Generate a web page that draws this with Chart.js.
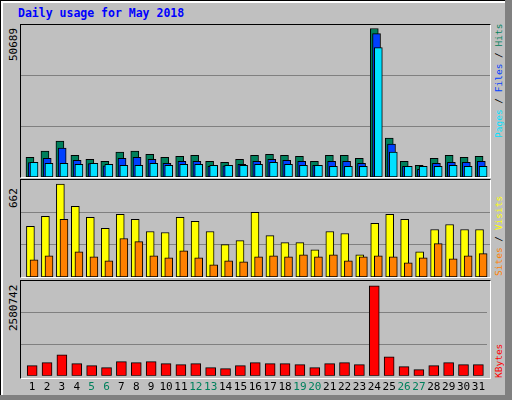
<!DOCTYPE html>
<html><head><meta charset="utf-8">
<script src="https://cdn.jsdelivr.net/npm/chart.js@4"></script>
<style>
body{margin:0;background:#fff}
#wrap{position:relative;width:512px;height:400px;background:#c0c0c0;overflow:hidden;font-family:"DejaVu Sans Mono",monospace}
#wrap:before{content:"";position:absolute;left:0;top:0;width:510px;height:398px;border-left:1px solid #000;border-top:1px solid #000}
.bev{position:absolute}
.panel{position:absolute;left:20px;width:469px;border-left:1px solid #000;border-top:1px solid #000;border-right:1px solid #fff;border-bottom:1px solid #fff}
.cv{position:absolute}
.title{position:absolute;left:18px;top:6px;font-weight:bold;font-size:11.5px;color:#0000ff}
.rot{position:absolute;transform-origin:0 0;transform:rotate(-90deg);white-space:nowrap;font-size:11px;line-height:12px}
.rs{font-size:9.5px;line-height:12px}
</style></head><body>
<div id="wrap">
  <div class="bev" style="left:1px;top:1px;width:504px;height:2px;background:#fff"></div>
  <div class="bev" style="left:1px;top:1px;width:2px;height:394px;background:#fff"></div>
  <div class="bev" style="left:505px;top:0;width:7px;height:400px;background:#808080"></div>
  <div class="bev" style="left:0;top:395px;width:512px;height:5px;background:#808080"></div>
  <div class="title">Daily usage for May 2018</div>
  <div class="panel" style="top:24px;height:152px"></div>
  <div class="panel" style="top:179px;height:97px"></div>
  <div class="panel" style="top:280px;height:97px"></div>
  <div class="rot" style="left:8px;top:61px;color:#000">50689</div>
  <div class="rot" style="left:8px;top:208px;color:#000">662</div>
  <div class="rot" style="left:8px;top:331px;color:#000">2580742</div>
  <div class="rot rs" style="left:493px;top:138px"><span style="color:#00e0ff">Pages</span><span style="color:#000"> / </span><span style="color:#0040ff">Files</span><span style="color:#000"> / </span><span style="color:#00805c">Hits</span></div>
  <div class="rot rs" style="left:493px;top:276px"><span style="color:#ff8000">Sites</span><span style="color:#000"> / </span><span style="color:#ffff00">Visits</span></div>
  <div class="rot rs" style="left:493px;top:378px;color:#ff0000">KBytes</div>
  <div class="cv" style="left:21px;top:25px;width:469px;height:152px"><canvas id="c1"></canvas></div>
  <div class="cv" style="left:21px;top:180px;width:469px;height:97px"><canvas id="c2"></canvas></div>
  <div class="cv" style="left:21px;top:281px;width:469px;height:118px"><canvas id="c3"></canvas></div>
</div>
<script>
const days=[1,2,3,4,5,6,7,8,9,10,11,12,13,14,15,16,17,18,19,20,21,22,23,24,25,26,27,28,29,30,31];
const weekends=[5,6,12,13,19,20,26,27];
const hits=[6750,8810,12240,7440,6060,5380,8470,8810,7780,6750,7090,7440,5380,5030,6060,7440,7780,7440,7090,5380,7440,7440,6410,50689,13270,5380,4000,6410,7440,6750,7090];
const files=[4920,6410,9840,5720,4580,3780,6410,6750,6060,4690,5380,5380,3660,3780,4350,5380,6060,5720,5380,4000,5380,5380,4690,48970,11210,3660,2630,4690,5030,5030,5380];
const pages=[5030,4690,4690,4350,4690,4350,4000,4000,4690,4000,4350,4350,4000,4000,4000,4350,5030,4350,4000,4000,3660,3660,3660,44160,8470,3660,3660,3660,4000,3660,3660];
const visits=[360,432,662,504,425,346,446,410,324,317,425,396,324,230,259,461,295,245,245,194,324,310,158,382,446,410,180,338,374,338,338];
const sites=[122,151,410,180,144,115,274,252,151,137,187,137,86,115,108,144,151,144,158,144,158,115,144,151,144,101,137,238,130,151,166];
const kbytes=[292000,377000,603000,348000,292000,235000,405000,377000,405000,348000,320000,348000,235000,207000,292000,377000,348000,348000,320000,235000,348000,377000,320000,2580742,546000,264000,179000,292000,377000,320000,320000];
const XMIN=0.25, XMAX=31.58;
function pts(arr,off){return arr.map((v,i)=>({x:days[i]+off,y:v}));}
function ds(arr,off,color,w,ord){return {data:pts(arr,off),order:ord,backgroundColor:color,borderColor:'#000',borderWidth:1,barThickness:w,grouped:false,borderSkipped:false};}
function opts(ymax,showX){
  return {responsive:true,maintainAspectRatio:false,animation:false,
    layout:{padding:0},
    plugins:{legend:{display:false},tooltip:{enabled:false}},
    scales:{
      x:{type:'linear',min:XMIN,max:XMAX,offset:false,
        grid:{display:false,drawTicks:false},border:{display:false},
        afterBuildTicks:s=>{s.ticks=showX?days.map(d=>({value:d})):[];},
        ticks:{display:showX,padding:5,autoSkip:false,maxRotation:0,
          font:{family:'DejaVu Sans Mono',size:11},
          color:c=>weekends.includes(c.tick.value)?'#00805c':'#000',
          callback:v=>String(v)}},
      y:{min:0,max:ymax,
        afterBuildTicks:s=>{s.ticks=[{value:ymax/3},{value:2*ymax/3}];},
        ticks:{display:false},grid:{color:'#808080',lineWidth:1,drawTicks:false},border:{display:false}}
    }};
}
new Chart(document.getElementById('c1'),{type:'bar',data:{datasets:[
  ds(hits,-0.15,'#00805c',8,3),ds(files,0,'#0040ff',8,2),ds(pages,0.12,'#00e0ff',8,1)]},options:opts(50689*151/147.5,false)});
new Chart(document.getElementById('c2'),{type:'bar',data:{datasets:[
  ds(visits,-0.12,'#ffff00',8,2),ds(sites,0.12,'#ff8000',8,1)]},options:opts(662*96/92,false)});
new Chart(document.getElementById('c3'),{type:'bar',data:{datasets:[
  ds(kbytes,0,'#ff0000',10,1)]},options:opts(2580742*97/92,true)});
</script>
</body></html>
